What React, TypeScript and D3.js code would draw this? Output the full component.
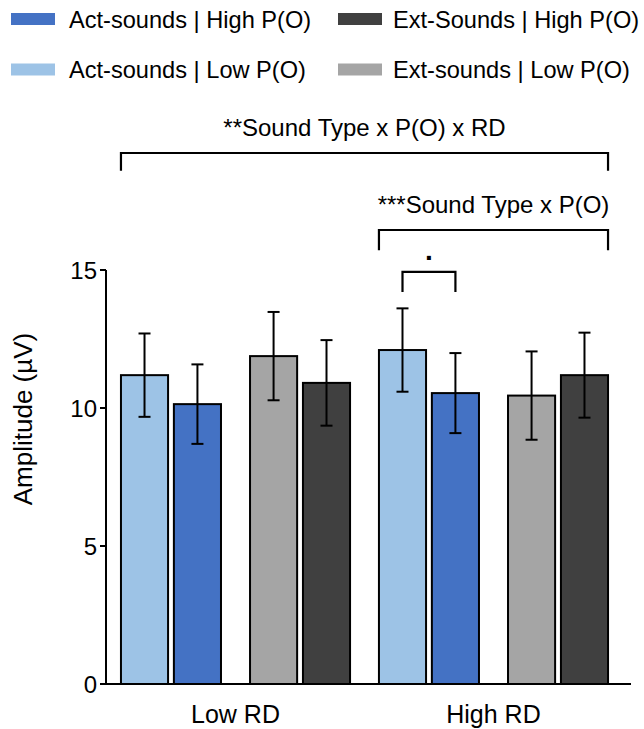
import * as d3 from "d3";

const groups = ["Low RD", "High RD"];
const soundTypes = ["Act", "Ext"];
const probs = ["Low", "High"];

// means per group (Low RD, High RD)
const actLowMean = [11.19, 12.1];
const actHighMean = [10.14, 10.54];
const extLowMean = [11.88, 10.45];
const extHighMean = [10.91, 11.19];

// error bar half-widths
const actLowErr = [1.51, 1.51];
const actHighErr = [1.44, 1.45];
const extLowErr = [1.6, 1.6];
const extHighErr = [1.55, 1.54];

const yTicks = [0, 5, 10, 15];

const legendLabels = [
  "Act-sounds | High P(O)",
  "Ext-Sounds | High P(O)",
  "Act-sounds | Low P(O)",
  "Ext-sounds | Low P(O)",
];

const colors: Record<string, string> = {
  "Act-Low": "#9DC3E6",
  "Act-High": "#4472C4",
  "Ext-Low": "#A5A5A5",
  "Ext-High": "#404040",
};

const means: Record<string, number[]> = {
  "Act-Low": actLowMean,
  "Act-High": actHighMean,
  "Ext-Low": extLowMean,
  "Ext-High": extHighMean,
};
const errs: Record<string, number[]> = {
  "Act-Low": actLowErr,
  "Act-High": actHighErr,
  "Ext-Low": extLowErr,
  "Ext-High": extHighErr,
};

const W = 644;
const H = 729;
const font = "'Liberation Sans', Arial, sans-serif";

export default function App() {
  const y = d3.scaleLinear().domain([0, 15]).range([684, 270]);

  const x0 = d3
    .scaleBand()
    .domain(groups)
    .range([106, 623])
    .paddingInner(0.112)
    .paddingOuter(0.058);
  const x1 = d3
    .scaleBand()
    .domain(soundTypes)
    .range([0, x0.bandwidth()])
    .paddingInner(0.225);
  const x2 = d3
    .scaleBand()
    .domain(probs)
    .range([0, x1.bandwidth()])
    .paddingInner(0.11);

  const bars = groups.flatMap((g, gi) =>
    soundTypes.flatMap((s) =>
      probs.map((p) => {
        const key = `${s}-${p}`;
        return {
          key: `${g}-${key}`,
          x: (x0(g) ?? 0) + (x1(s) ?? 0) + (x2(p) ?? 0),
          w: x2.bandwidth(),
          mean: means[key][gi],
          err: errs[key][gi],
          color: colors[key],
        };
      })
    )
  );

  const barLeft = (g: string, s: string, p: string) =>
    (x0(g) ?? 0) + (x1(s) ?? 0) + (x2(p) ?? 0);
  const barMid = (g: string, s: string, p: string) =>
    barLeft(g, s, p) + x2.bandwidth() / 2;
  const barRight = (g: string, s: string, p: string) =>
    barLeft(g, s, p) + x2.bandwidth();

  // significance brackets (levels in data units)
  const brackets = [
    {
      x1: barLeft("Low RD", "Act", "Low"),
      x2: barRight("High RD", "Ext", "High"),
      top: 19.24,
      bottom: 18.6,
      label: "**Sound Type x P(O) x RD",
      labelV: 20.18,
      size: 24,
      base: "central",
    },
    {
      x1: barLeft("High RD", "Act", "Low"),
      x2: barRight("High RD", "Ext", "High"),
      top: 16.45,
      bottom: 15.72,
      label: "***Sound Type x P(O)",
      labelV: 17.39,
      size: 24,
      base: "central",
    },
    {
      x1: barMid("High RD", "Act", "Low"),
      x2: barMid("High RD", "Act", "High"),
      top: 14.93,
      bottom: 14.2,
      label: ".",
      labelV: 15.37,
      size: 28,
      base: "alphabetic",
    },
  ];

  const legendKeys = ["Act-High", "Ext-High", "Act-Low", "Ext-Low"];
  const legendCol = [11, 338];
  const legendText = [69, 393];
  const legendRow = [27.5, 78];

  return (
    <svg
      width={W}
      height={H}
      style={{ position: "absolute", left: 0, top: 0, background: "#fff" }}
      fontFamily={font}
    >
      {/* legend */}
      {legendKeys.map((k, i) => {
        const cx = legendCol[i % 2];
        const cy = legendRow[Math.floor(i / 2)];
        return (
          <g key={k}>
            <rect x={cx} y={cy - 14.5} width={44} height={12} fill={colors[k]} />
            <text x={legendText[i % 2]} y={cy} fontSize={23.6} fill="#000">
              {legendLabels[i]}
            </text>
          </g>
        );
      })}

      {/* brackets */}
      {brackets.map((b, i) => (
        <g key={i}>
          <path
            d={`M${b.x1},${y(b.bottom)}V${y(b.top)}H${b.x2}V${y(b.bottom)}`}
            fill="none"
            stroke="#000"
            strokeWidth={2.2}
          />
          <text
            x={(b.x1 + b.x2) / 2}
            y={y(b.labelV)}
            fontSize={b.size}
            fontWeight={b.label === "." ? "bold" : "normal"}
            textAnchor="middle"
            dominantBaseline={b.base}
          >
            {b.label}
          </text>
        </g>
      ))}

      {/* bars */}
      {bars.map((d) => (
        <rect
          key={d.key}
          x={d.x}
          y={y(d.mean)}
          width={d.w}
          height={y(0) - y(d.mean)}
          fill={d.color}
          stroke="#000"
          strokeWidth={2}
        />
      ))}

      {/* error bars */}
      {bars.map((d) => {
        const cx = d.x + d.w / 2;
        return (
          <g key={`e-${d.key}`} stroke="#000" strokeWidth={2}>
            <line x1={cx} x2={cx} y1={y(d.mean + d.err)} y2={y(d.mean - d.err)} />
            <line x1={cx - 6} x2={cx + 6} y1={y(d.mean + d.err)} y2={y(d.mean + d.err)} />
            <line x1={cx - 6} x2={cx + 6} y1={y(d.mean - d.err)} y2={y(d.mean - d.err)} />
          </g>
        );
      })}

      {/* y axis */}
      <line x1={106} x2={106} y1={y(15)} y2={y(0)} stroke="#000" strokeWidth={2} />
      {yTicks.map((t) => (
        <g key={t}>
          <line x1={100} x2={106} y1={y(t)} y2={y(t)} stroke="#000" strokeWidth={2} />
          <text
            x={97}
            y={y(t)}
            fontSize={24}
            textAnchor="end"
            dominantBaseline="central"
          >
            {t}
          </text>
        </g>
      ))}
      <text
        transform="translate(32,419) rotate(-90)"
        fontSize={26}
        textAnchor="middle"
      >
        Amplitude (µV)
      </text>

      {/* x axis */}
      <line x1={100} x2={631} y1={y(0)} y2={y(0)} stroke="#000" strokeWidth={2} />
      {groups.map((g) => (
        <text
          key={g}
          x={(x0(g) ?? 0) + x0.bandwidth() / 2}
          y={723}
          fontSize={25}
          textAnchor="middle"
        >
          {g}
        </text>
      ))}
    </svg>
  );
}
